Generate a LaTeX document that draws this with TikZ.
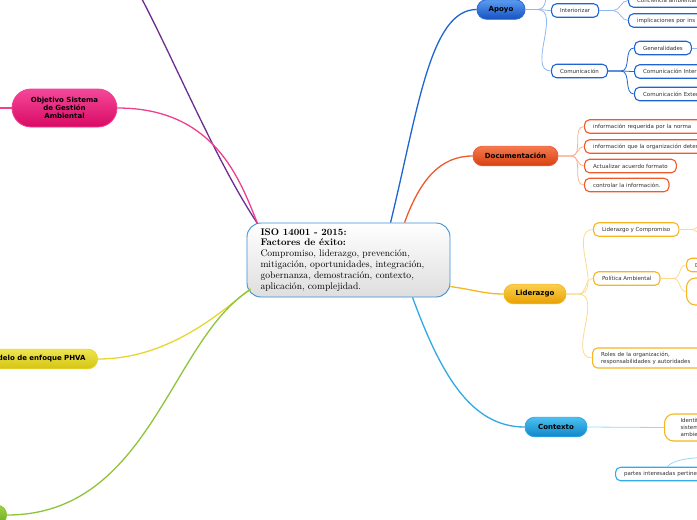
\documentclass[tikz,border=0pt]{standalone}
\usepackage{fontspec}
\setsansfont{DejaVu Sans}
\usetikzlibrary{calc}
\definecolor{cB}{HTML}{3C8FD6}
\definecolor{apT}{HTML}{5B9CF0}\definecolor{apD}{HTML}{1552C0}\definecolor{apE}{HTML}{2A6BD6}
\definecolor{apK}{HTML}{1F64D0}\definecolor{apL}{HTML}{8FB8F2}
\definecolor{doT}{HTML}{F47A50}\definecolor{doD}{HTML}{D9400F}\definecolor{doE}{HTML}{EC5A2E}
\definecolor{doK}{HTML}{F05A28}\definecolor{doL}{HTML}{F8B49A}
\definecolor{liT}{HTML}{FBD050}\definecolor{liD}{HTML}{E8A000}\definecolor{liE}{HTML}{F5B820}
\definecolor{liK}{HTML}{F7B520}\definecolor{liL}{HTML}{FCD98E}
\definecolor{ctT}{HTML}{4CC0F0}\definecolor{ctD}{HTML}{0F86C8}\definecolor{ctE}{HTML}{30A8E4}
\definecolor{ctK}{HTML}{33AAEA}\definecolor{ctL}{HTML}{9AD6F4}
\definecolor{obT}{HTML}{F5489A}\definecolor{obD}{HTML}{D80A64}\definecolor{obE}{HTML}{F0408C}
\definecolor{phT}{HTML}{EEE650}\definecolor{phD}{HTML}{D6C412}\definecolor{phE}{HTML}{E6D630}
\definecolor{grT}{HTML}{9ED048}\definecolor{grD}{HTML}{6AAA20}\definecolor{grE}{HTML}{8CC43A}
\definecolor{pu}{HTML}{6B2D90}
\begin{document}
\begin{tikzpicture}[x=1pt,y=-1pt,
  mainbox/.style={rounded corners=9.5pt, minimum height=19.5pt, inner sep=0pt,
    font=\sffamily\bfseries\fontsize{7}{8.3}\selectfont, text=black, line width=0.8pt},
  kid/.style={draw=#1, line width=1.1pt, fill=white, rounded corners=5pt,
    minimum height=13.5pt, inner xsep=8.5pt, inner ysep=1pt,
    font=\sffamily\fontsize{5.5}{6.8}\selectfont, text=black!80, anchor=west, align=left},
  lk/.style={draw=#1, line width=0.8pt},
  mlk/.style={draw=#1, line width=1.3pt}]
\useasboundingbox (0,0) rectangle (697,520);
\clip (0,0) rectangle (697,520);

% central node
\node[draw=cB, line width=0.9pt, rounded corners=14pt, top color=white, bottom color=black!13,
  minimum width=203pt, minimum height=74pt, inner sep=0pt,
  font=\rmfamily\fontsize{9.6}{10.8}\selectfont] (c) at (348.5,260)
  {\makebox[176pt][l]{\begin{tabular}{@{}l@{}}\textbf{ISO 14001 - 2015:}\\
  \textbf{Factores de éxito:}\\Compromiso, liderazgo, prevención,\\
  mitigación, oportunidades, integración,\\gobernanza, demostración, contexto,\\
  aplicación, complejidad.\end{tabular}}};

% main branches
\node[mainbox, draw=apE, top color=apT, bottom color=apD, minimum width=48pt] (apoyo) at (501,9.5) {Apoyo};
\node[mainbox, draw=doE, top color=doT, bottom color=doD, minimum width=85pt] (doc) at (515.5,156) {Documentación};
\node[mainbox, draw=liE, top color=liT, bottom color=liD, minimum width=62pt] (lid) at (535,294) {Liderazgo};
\node[mainbox, draw=ctE, top color=ctT, bottom color=ctD, minimum width=62pt] (ctx) at (556,427) {Contexto};
\node[mainbox, draw=obE, top color=obT, bottom color=obD, minimum width=105pt, minimum height=38pt,
  rounded corners=19pt, align=center] (obj) at (64.5,108) {Objetivo Sistema\\de Gestión\\Ambiental};
\node[mainbox, draw=phE, top color=phT, bottom color=phD, anchor=east, inner xsep=12pt] (phva) at (98,359) {Modelo de enfoque PHVA};
\node[mainbox, draw=grE, top color=grT, bottom color=grD, anchor=east, minimum width=60pt] (grn) at (7,515) {};

% connectors from centre
\coordinate (puEnd) at (136,-12);
\coordinate (objL) at (-15,108);
\draw[mlk=pu] ($(c.north west)+(11,1)$) .. controls (215,160) and (170,50) .. (puEnd);
\draw[mlk=obE] ($(c.north west)+(11,1)$) .. controls (240,180) and (215,108) .. (obj.east);
\draw[mlk=obE] (obj.west) -- (objL);
\draw[mlk=phE] ($(c.south west)+(4,-9)$) .. controls (215,318) and (165,359) .. (phva.east);
\draw[mlk=grE] ($(c.south west)+(4,-8)$) .. controls (170,340) and (150,515) .. (grn.east);
\draw[mlk=apK] ($(c.north west)+(144,0)$) .. controls (418,110) and (430,9.5) .. (apoyo.west);
\draw[mlk=doE] ($(c.north west)+(158,0)$) .. controls (420,180) and (440,156) .. (doc.west);
\draw[mlk=liE] ($(c.north east)+(0,64)$) .. controls (475,290) and (485,294) .. (lid.west);
\draw[mlk=ctE] ($(c.south west)+(166,0)$) .. controls (440,372) and (470,427) .. (ctx.west);

% Apoyo children
\node[kid=apK] (inter) at (551,10.5) {Interiorizar};
\node[kid=apK] (com) at (551,71) {Comunicación};
\node[kid=apK] (conc) at (628,0.5) {Conciencia ambiental};
\node[kid=apK, text width=80pt] (impl) at (628,20.5) {implicaciones por ins};
\node[kid=apK] (gen) at (634,48) {Generalidades};
\node[kid=apK, text width=80pt] (cint) at (634,71.5) {Comunicación Interna};
\node[kid=apK, text width=80pt] (cext) at (634,94) {Comunicación Externa};
\coordinate (apUp) at (546,-15);
\coordinate (genR) at (705,48);
\draw[lk=apL] (apoyo.east) -- ++(12,0) to[out=0,in=270] (apUp);
\draw[lk=apL] (apoyo.east) -- ++(12,0) to[out=0,in=180] (inter.west);
\draw[lk=apL] (apoyo.east) -- ++(12,0) to[out=0,in=180] (com.west);
\draw[lk=apL] (inter.east) -- ++(14,0) to[out=0,in=180] (conc.west);
\draw[lk=apL] (inter.east) -- ++(14,0) to[out=0,in=180] (impl.west);
\draw[lk=apK] (com.east) -- ++(13,0) to[out=0,in=180] (gen.west);
\draw[lk=apK] (com.east) -- ++(13,0) to[out=0,in=180] (cint.west);
\draw[lk=apK] (com.east) -- ++(13,0) to[out=0,in=180] (cext.west);
\draw[lk=apL] (gen.east) -- (genR);

% Documentación children
\node[kid=doK, text width=120pt] (d1) at (584,126.5) {información requerida por la norma};
\node[kid=doK, text width=120pt] (d2) at (584,146.5) {información que la organización determine};
\node[kid=doK] (d3) at (584,166) {Actualizar acuerdo formato};
\node[kid=doK] (d4) at (584,185) {controlar la información.};
\foreach \k in {d1,d2,d3,d4}
  \draw[lk=doL] (doc.east) -- ++(13,0) to[out=0,in=180] (\k.west);

% Liderazgo children
\node[kid=liK] (l1) at (593,229.5) {Liderazgo y Compromiso};
\node[kid=liK] (l2) at (593,278.5) {Política Ambiental};
\node[kid=liK, text width=120pt, minimum height=20pt] (l3) at (592,358)
  {Roles de la organización,\\responsabilidades y autoridades};
\node[kid=liK, text width=40pt] (p1) at (686,265) {D};
\node[kid=liK, text width=40pt, minimum height=27pt, rounded corners=9pt] (p2) at (686,291.5) {};
\coordinate (lcU) at (712,214);
\coordinate (lcD) at (712,246);
\foreach \k in {l1,l2,l3}
  \draw[lk=liL] (lid.east) -- ++(12,0) to[out=0,in=180] (\k.west);
\draw[lk=liL] (l2.east) -- ++(13,0) to[out=0,in=180] (p1.west);
\draw[lk=liL] (l2.east) -- ++(13,0) to[out=0,in=180] (p2.west);
\draw[lk=liL] (l1.east) -- ++(12,0) to[out=0,in=180] (lcU);
\draw[lk=liL] (l1.east) -- ++(12,0) to[out=0,in=180] (lcD);

% Contexto children
\node[kid=liK, text width=60pt, minimum height=27pt, rounded corners=9pt, inner xsep=16pt] (idt) at (664,427.5)
  {Identificar\\sistema\\ambiental};
\node[kid=ctK, text width=110pt] (pt) at (615,474) {partes interesadas pertinentes};
\coordinate (ptR) at (710,457);
\draw[lk=ctL] (ctx.east) -- (idt.west);
\draw[lk=ctL] ($(pt.north west)+(52,0)$) .. controls (675,459) and (690,458) .. (ptR);
\end{tikzpicture}
\end{document}
